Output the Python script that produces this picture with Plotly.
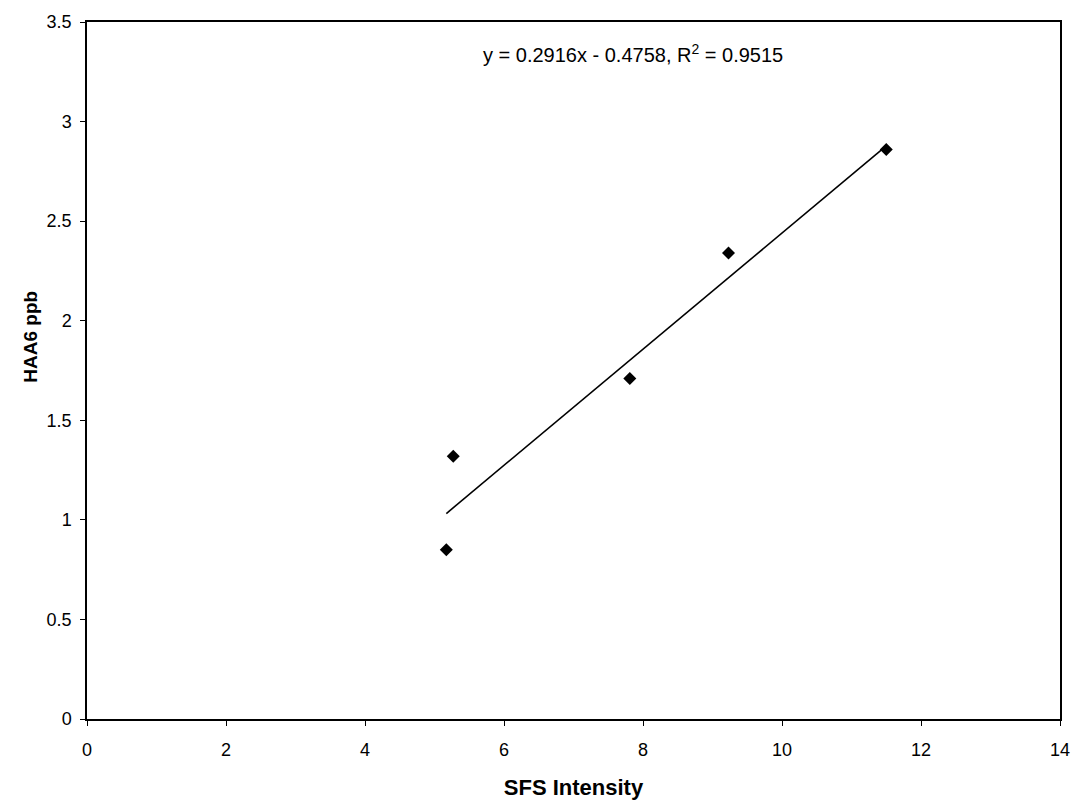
import plotly.graph_objects as go

sfs_intensity = [5.17, 5.27, 7.81, 9.23, 11.5]
haa6_ppb = [0.85, 1.32, 1.71, 2.34, 2.86]
slope = 0.2916
intercept = -0.4758
r_squared = 0.9515
x_ticks = [0, 2, 4, 6, 8, 10, 12, 14]
y_ticks = [0, 0.5, 1, 1.5, 2, 2.5, 3, 3.5]

fit_x = [min(sfs_intensity), max(sfs_intensity)]
fit_y = [slope * v + intercept for v in fit_x]

fig = go.Figure()
fig.add_trace(go.Scatter(x=fit_x, y=fit_y, mode="lines",
                         line=dict(color="black", width=1.6), showlegend=False))
fig.add_trace(go.Scatter(x=sfs_intensity, y=haa6_ppb, mode="markers",
                         marker=dict(symbol="diamond", size=10, color="black"),
                         showlegend=False))

fig.add_annotation(
    xref="x", yref="y", x=7.85, y=3.34,
    text=f"y = {slope}x - {abs(intercept)}, R<sup>2</sup> = {r_squared}",
    showarrow=False, font=dict(family="Arial", size=20, color="black"))

# y-axis title (sits slightly above the axis centre, as in the reference)
fig.add_annotation(
    xref="paper", yref="paper", x=-0.059, y=0.548, xanchor="center", yanchor="middle",
    text="<b>HAA6 ppb</b>", textangle=-90, showarrow=False,
    font=dict(family="Arial", size=19, color="black"))

axis_common = dict(showline=True, linecolor="black", linewidth=1.5, mirror=True,
                   ticks="outside", ticklen=5, tickcolor="black", showgrid=False,
                   zeroline=False, tickfont=dict(family="Arial", size=18, color="black"))

fig.update_xaxes(range=[0, 14], tickvals=x_ticks, ticktext=[str(v) for v in x_ticks],
                 ticklabelstandoff=9,
                 title=dict(text="<b>SFS Intensity</b>", font=dict(family="Arial", size=22, color="black"),
                            standoff=20),
                 **axis_common)
fig.update_yaxes(range=[0, 3.5], tickvals=y_ticks, ticktext=[f"{v:g}" for v in y_ticks],
                 ticklabelstandoff=5, **axis_common)

fig.update_layout(width=1082, height=808, plot_bgcolor="white", paper_bgcolor="white",
                  margin=dict(l=87, r=15, t=22, b=83))
fig.write_html("out.html", config={"displayModeBar": False},
               post_script="document.body.style.margin='0';document.body.style.overflow='hidden';")
